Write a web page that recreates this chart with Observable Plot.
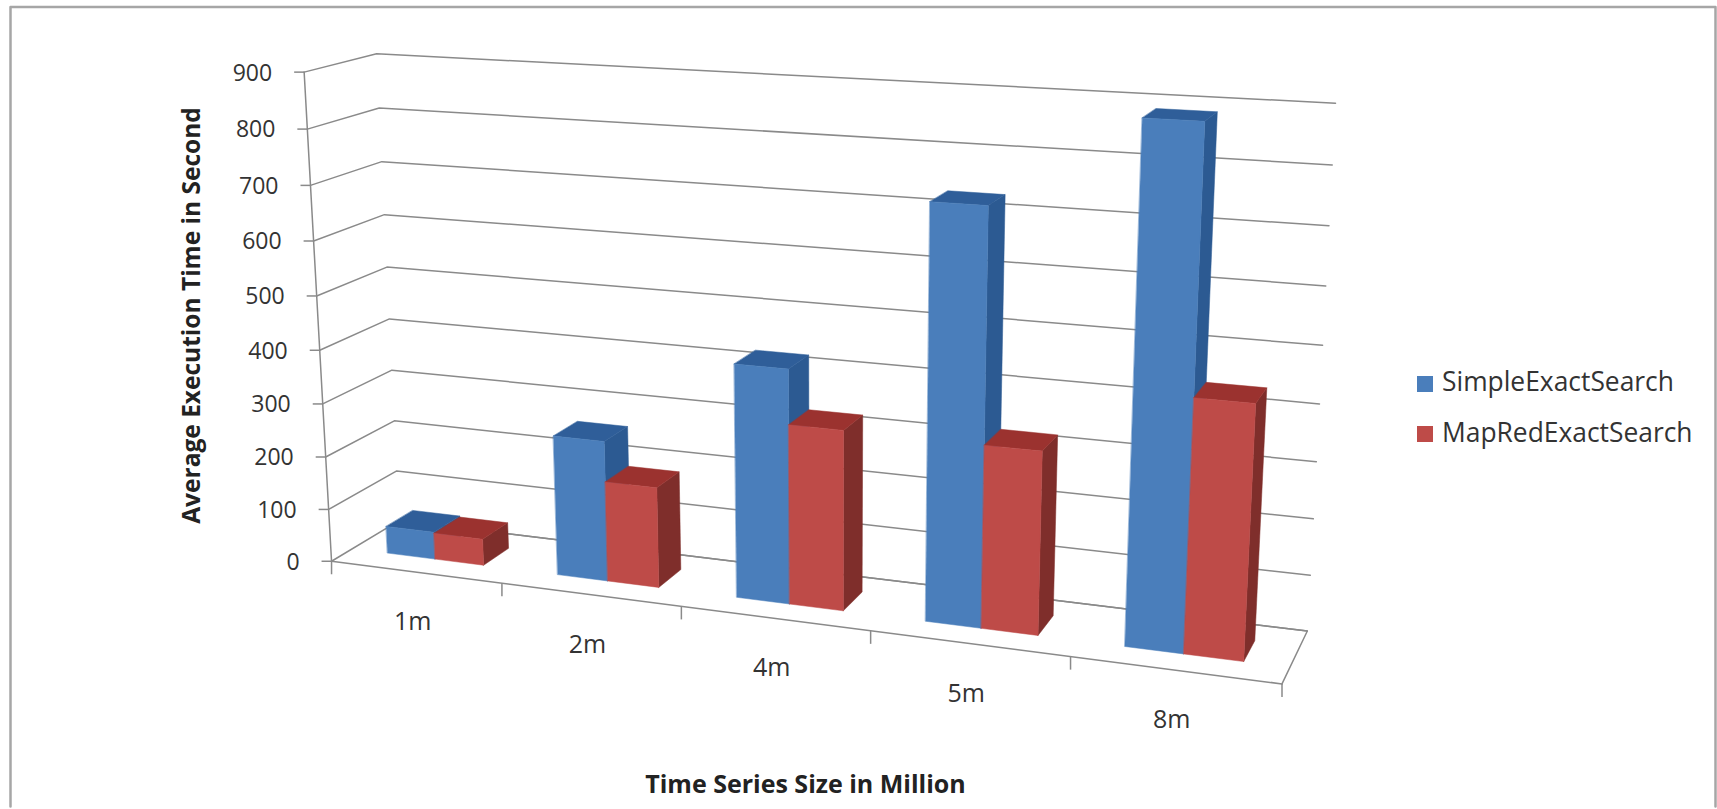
<!DOCTYPE html>
<html>
<head>
<meta charset="utf-8">
<script src="https://cdn.jsdelivr.net/npm/d3@7"></script>
<script src="https://cdn.jsdelivr.net/npm/@observablehq/plot@0.6"></script>
<style>
  html, body { margin: 0; padding: 0; background: #fff; }
  svg { display: block; }
</style>
</head>
<body>
<div id="chart"></div>
<script>
// Chart values
const categories = ["1m", "2m", "4m", "5m", "8m"];
const simpleExactSearch = [52, 261, 425, 731, 888];
const mapRedExactSearch = [50, 186, 326, 325, 440];
const valueTicks = [0, 100, 200, 300, 400, 500, 600, 700, 800, 900];
const seriesNames = ["SimpleExactSearch", "MapRedExactSearch"];

const W = 1717, H = 809;
const FONT = "'Open Sans', sans-serif";
const INK = "#333333";

// Face colours per series: front, top, side
const faceColors = [
  {front: "#4a7ebb", top: "#2f5e99", side: "#2c5a92"},
  {front: "#be4b48", top: "#9b322f", side: "#7f2e2b"}
];

// Camera calibration: box position (category, depth, value) -> page position
const calibration = [
  [0, 0, 0, 331.7, 560], [1, 0, 0, 500, 582], [2, 0, 0, 681.7, 606.7],
  [3, 0, 0, 870, 633], [4, 0, 0, 1070, 655], [5, 0, 0, 1281.7, 682.3],
  [0, 0, 900, 303.3, 71.7], [0, 0, 400, 319.5, 350],
  [0, 1, 100, 396.7, 470.7], [0, 1, 400, 388, 318], [0, 1, 900, 376.7, 53.3],
  [5, 1, 0, 1306.7, 630.7], [5, 1, 400, 1319, 403.3], [5, 1, 900, 1335, 102.7]
];

// Least-squares fit of a 3x4 projective camera to the calibration rows
function fitCamera(rows) {
  const n = 11;
  const A = Array.from({length: n}, () => new Array(n + 1).fill(0));
  const add = (r, b) => {
    for (let i = 0; i < n; ++i) {
      for (let j = 0; j < n; ++j) A[i][j] += r[i] * r[j];
      A[i][n] += r[i] * b;
    }
  };
  for (const [c, d, v, x, y] of rows) {
    const u = c / 5, w = v / 900;
    add([u, d, w, 1, 0, 0, 0, 0, -x * u, -x * d, -x * w], x);
    add([0, 0, 0, 0, u, d, w, 1, -y * u, -y * d, -y * w], y);
  }
  for (let i = 0; i < n; ++i) {
    let p = i;
    for (let k = i + 1; k < n; ++k) if (Math.abs(A[k][i]) > Math.abs(A[p][i])) p = k;
    [A[i], A[p]] = [A[p], A[i]];
    for (let k = 0; k < n; ++k) {
      if (k === i) continue;
      const f = A[k][i] / A[i][i];
      for (let j = i; j <= n; ++j) A[k][j] -= f * A[i][j];
    }
  }
  return A.map((row, i) => row[n] / row[i]);
}
const cam = fitCamera(calibration);

function project(c, d, v) {
  const u = c / 5, w = v / 900;
  const q = cam[8] * u + cam[9] * d + cam[10] * w + 1;
  return {
    x: (cam[0] * u + cam[1] * d + cam[2] * w + cam[3]) / q,
    y: (cam[4] * u + cam[5] * d + cam[6] * w + cam[7]) / q
  };
}

// Walls: each value's gridline runs along the side wall, then along the back wall
const gridRows = valueTicks.flatMap(v =>
  [[0, 0], [0, 1], [5, 1]].map(([c, d]) => ({...project(c, d, v), group: v}))
);
const floorRows = [[0, 1], [5, 1], [5, 0]].map(([c, d]) => project(c, d, 0));
const frontRows = [[0, 0], [5, 0]].map(([c, d]) => project(c, d, 0));
const axisRows = [0, 900].map(v => project(0, 0, v));

const valueTickRows = valueTicks.map(v => {
  const p = project(0, 0, v);
  return {x1: p.x - 10, x2: p.x, y: p.y, label: String(v)};
});
const categoryTickRows = d3.range(1, 6).map(c => {
  const p = project(c, 0, 0);
  return {x: p.x, y1: p.y, y2: p.y + 13};
});
const categoryLabelRows = categories.map((label, i) => {
  const p = project(i + 0.5, 0, 0);
  return {x: p.x - 3, y: p.y + 50, label};
});

// Bar boxes: two series side by side in the middle of each category cell
const barSpan = [[0.212, 0.497], [0.497, 0.783]];
const depthSpan = [0.3, 0.7];
const barMarks = [];
categories.forEach((_, i) => {
  [simpleExactSearch, mapRedExactSearch].forEach((series, s) => {
    const v = series[i], c0 = i + barSpan[s][0], c1 = i + barSpan[s][1];
    const [d0, d1] = depthSpan;
    const colors = faceColors[s];
    const face = (corners, fill) =>
      Plot.line(corners.map(([c, d, val]) => project(c, d, val)),
        {x: "x", y: "y", fill, stroke: fill, strokeWidth: 0.5, curve: "linear-closed"});
    barMarks.push(
      face([[c1, d0, 0], [c1, d1, 0], [c1, d1, v], [c1, d0, v]], colors.side),
      face([[c0, d0, v], [c1, d0, v], [c1, d1, v], [c0, d1, v]], colors.top),
      face([[c0, d0, 0], [c1, d0, 0], [c1, d0, v], [c0, d0, v]], colors.front)
    );
  });
});

// Outer chart border: left, top and right edges only
const borderRows = [{x: 10, y: 806}, {x: 10, y: 6.5}, {x: 1715, y: 6.5}, {x: 1715, y: 806}];

// Legend rows
const legendRows = seriesNames.map((name, i) => ({
  name, fill: faceColors[i].front, x1: 1417, x2: 1433, y1: 376 + 50 * i, y2: 392 + 50 * i,
  tx: 1441.5, ty: 382 + 51.5 * i
}));

const GRID = "#8a8a8a";
const chart = Plot.plot({
  width: W,
  height: H,
  margin: 0,
  style: {background: "#fff", fontFamily: FONT},
  x: {type: "linear", domain: [0, W], range: [0, W], axis: null},
  y: {type: "linear", domain: [0, H], range: [0, H], axis: null},
  marks: [
    Plot.line(borderRows, {x: "x", y: "y", stroke: "#a6a6a6", strokeWidth: 2.5}),
    Plot.line(gridRows, {x: "x", y: "y", z: "group", stroke: GRID, strokeWidth: 1.5}),
    Plot.line(floorRows, {x: "x", y: "y", stroke: GRID, strokeWidth: 1.5}),
    Plot.line(frontRows, {x: "x", y: "y", stroke: GRID, strokeWidth: 1.5}),
    Plot.line(axisRows, {x: "x", y: "y", stroke: GRID, strokeWidth: 1.5}),
    Plot.link(valueTickRows, {x1: "x1", x2: "x2", y1: "y", y2: "y", stroke: GRID, strokeWidth: 1.5}),
    Plot.link(categoryTickRows, {x1: "x", x2: "x", y1: "y1", y2: "y2", stroke: GRID, strokeWidth: 1.5}),
    Plot.link(axisRows.slice(0, 1), {x1: "x", x2: "x", y1: "y", y2: d => d.y + 13, stroke: GRID, strokeWidth: 1.5}),
    ...barMarks,
    Plot.text(valueTickRows, {x: d => d.x1 - 22, y: "y", text: "label", textAnchor: "end", fontSize: 23, fill: INK, dy: 1}),
    Plot.text(categoryLabelRows, {x: "x", y: "y", text: "label", fontSize: 25, fill: INK}),
    Plot.text(["Average Execution Time in Second"], {x: [192], y: [315], text: d => d, rotate: -90, fontSize: 24.5, fontWeight: 700, fill: "#222"}),
    Plot.text(["Time Series Size in Million"], {x: [805], y: [784], text: d => d, fontSize: 25, fontWeight: 700, fill: "#222"}),
    Plot.rect(legendRows, {x1: "x1", x2: "x2", y1: "y1", y2: "y2", fill: d => d.fill}),
    Plot.text(legendRows, {x: "tx", y: "ty", text: "name", textAnchor: "start", fontSize: 26.4, fill: INK})
  ]
});
document.getElementById("chart").append(chart);
</script>
</body>
</html>
